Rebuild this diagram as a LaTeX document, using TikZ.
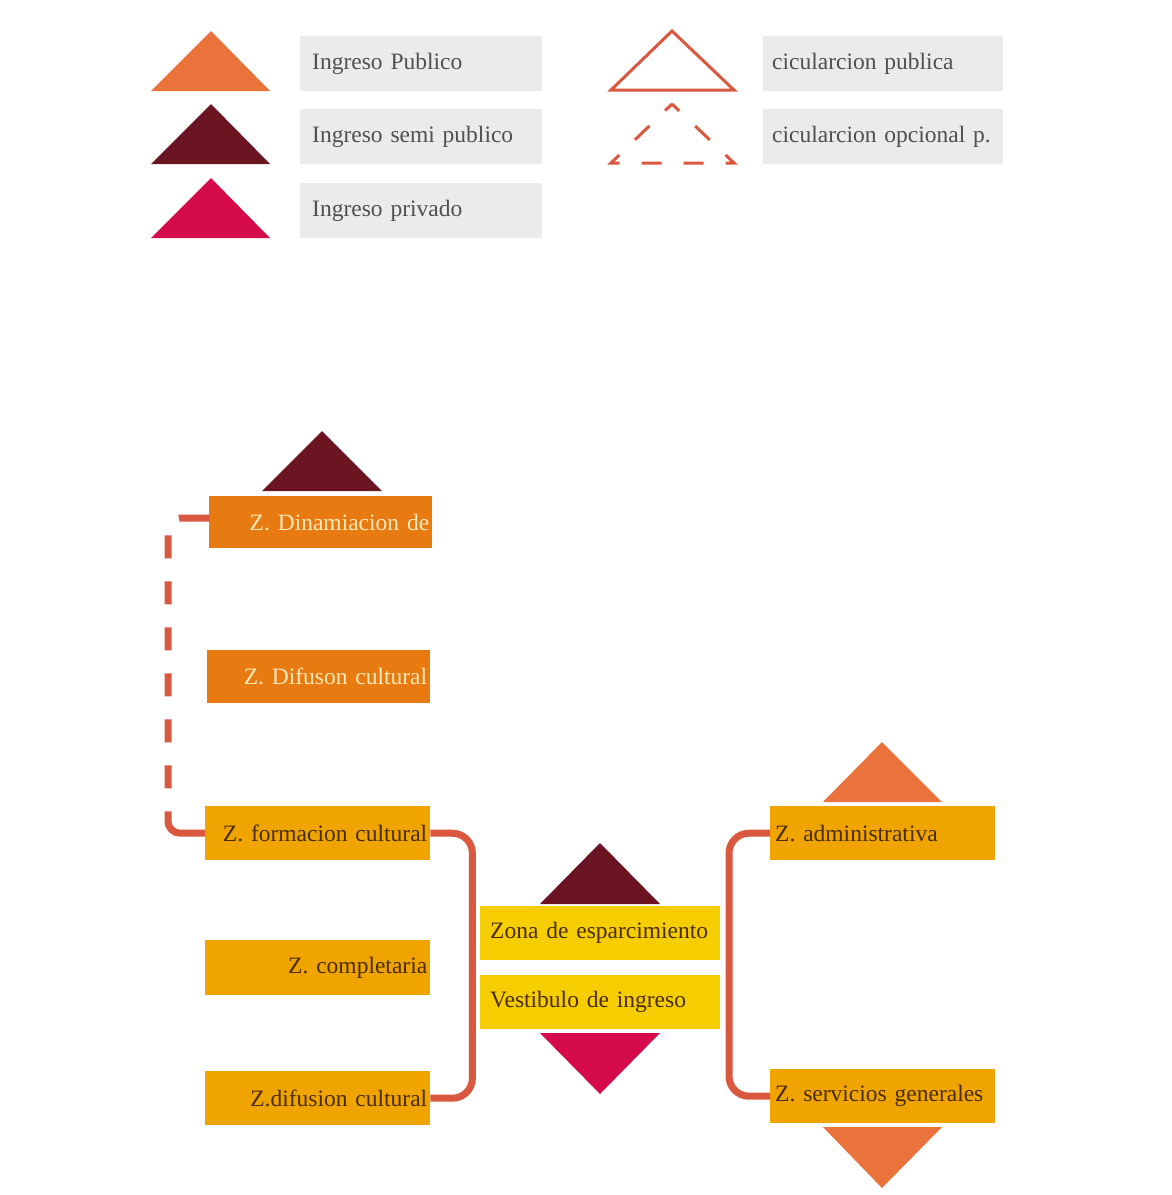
\documentclass[tikz,border=0pt]{standalone}
\usepackage{fontspec}
\setmainfont{Liberation Serif}
\definecolor{orangeT}{HTML}{E9733A}
\definecolor{darkT}{HTML}{6B1422}
\definecolor{crimsonT}{HTML}{D50B4B}
\definecolor{lgrey}{HTML}{EBEBEB}
\definecolor{legtext}{HTML}{505050}
\definecolor{conn}{HTML}{D9583F}
\definecolor{orbox}{HTML}{E77B11}
\definecolor{amber}{HTML}{EFA400}
\definecolor{yellowb}{HTML}{F6CE00}
\definecolor{darktext}{HTML}{4A2C06}
\definecolor{cream}{HTML}{FFE9B8}
\begin{document}
\begin{tikzpicture}[x=1pt,y=-1pt,
  txt/.style={font=\fontsize{23.5}{26}\selectfont},
  legbox/.style={txt, fill=lgrey, anchor=north west, minimum height=55pt,
    inner xsep=12pt, inner ysep=0pt, text width=218pt, align=left, text=legtext},
  zbox/.style={txt, anchor=north west, minimum height=54pt, inner ysep=0pt,
    inner xsep=3pt, text width=#1, },
  rbox/.style={zbox=#1, align=right},
  lbox/.style={zbox=#1, align=left},
  conline/.style={draw=conn, line width=7pt, rounded corners=20pt},
]
\useasboundingbox[fill=white] (0,0) rectangle (1171,1195);

% legend triangles
\fill[orangeT] (151,91) -- (211,31) -- (270,91) -- cycle;
\fill[darkT] (151,164) -- (211,104) -- (270,164) -- cycle;
\fill[crimsonT] (151,238) -- (211,178) -- (270,238) -- cycle;
\draw[conn, line width=3pt, line join=miter] (611,90) -- (672,31) -- (734,90) -- cycle;
\draw[conn, line width=3pt, dash pattern=on 20pt off 22pt, dash phase=10pt]
  (672,104) -- (734,163) -- (611,163) -- cycle;

% legend boxes
\node[legbox] (l1) at (300,36) {Ingreso Publico};
\node[legbox] (l2) at (300,109) {Ingreso semi publico};
\node[legbox] (l3) at (300,183) {Ingreso privado};
\node[legbox, inner xsep=9pt, text width=222pt] (l4) at (763,36) {cicularcion publica};
\node[legbox, inner xsep=9pt, text width=222pt] (l5) at (763,109) {cicularcion opcional p.};

% main triangles
\fill[darkT] (262,491) -- (322,431) -- (382,491) -- cycle;
\fill[darkT] (540,904) -- (600,843) -- (660,904) -- cycle;
\fill[crimsonT] (540,1033) -- (600,1094) -- (660,1033) -- cycle;
\fill[orangeT] (823,802) -- (882,742) -- (942,802) -- cycle;
\fill[orangeT] (823,1127) -- (882,1188) -- (942,1127) -- cycle;

% left boxes
\node[rbox=217pt, fill=orbox, text=cream, minimum height=52pt] (din) at (209,496) {Z. Dinamiacion de};
\node[rbox=217pt, fill=orbox, text=cream, minimum height=53pt] (dif1) at (207,650) {Z. Difuson cultural};
\node[rbox=219pt, fill=amber, text=darktext] (form) at (205,806) {Z. formacion cultural};
\node[rbox=219pt, fill=amber, text=darktext, minimum height=55pt] (comp) at (205,940) {Z. completaria};
\node[rbox=219pt, fill=amber, text=darktext] (dif2) at (205,1071) {Z.difusion cultural};

% centre boxes
\node[lbox=220pt, fill=yellowb, text=darktext, inner xsep=10pt] (zona) at (480,906) {Zona de esparcimiento};
\node[lbox=220pt, fill=yellowb, text=darktext, inner xsep=10pt] (vest) at (480,975) {Vestibulo de ingreso};

% right boxes
\node[lbox=215pt, fill=amber, text=darktext, inner xsep=5pt] (adm) at (770,806) {Z. administrativa};
\node[lbox=215pt, fill=amber, text=darktext, inner xsep=5pt] (serv) at (770,1069) {Z. servicios generales};

% connectors
\draw[conline] (form.east) -- ++(42,0) |- (dif2.east);
\draw[conline] (adm.west) -- ++(-41,0) |- (serv.west);
\draw[conline, rounded corners=12pt,
  dash pattern=on 30pt off 23pt on 23pt off 23pt on 23pt off 23pt on 23pt off 23pt on 23pt off 23pt on 23pt off 23pt on 23pt off 23pt on 70pt off 10pt]
  ([yshift=4pt]din.west) -- ++(-41,0) |- (form.west);
\end{tikzpicture}
\end{document}
